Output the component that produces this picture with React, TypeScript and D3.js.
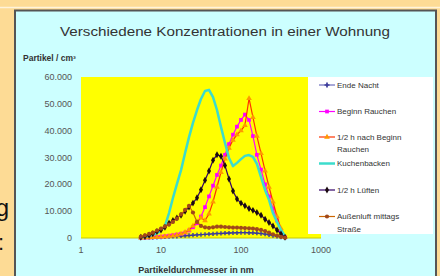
import React, { useEffect, useRef } from 'react';
import * as d3 from 'd3';

// particle diameters in nm (shared by all series)
const diameters = [5.6, 6.3, 7.1, 7.9, 8.9, 10, 11.2, 12.6, 14.1, 15.8, 17.8, 20, 22.4, 25.1, 28.2, 31.6, 35.5, 39.8, 44.7, 50.1, 56.2, 63.1, 70.8, 79.4, 89.1, 100, 112, 126, 141, 158, 178, 200, 224, 251, 282, 316, 355];

const endeNacht = [60, 90, 120, 170, 230, 300, 380, 470, 560, 650, 760, 860, 950, 1050, 1150, 1250, 1350, 1450, 1550, 1650, 1700, 1800, 1850, 1900, 1950, 2000, 2000, 1950, 1900, 1800, 1650, 1450, 1200, 900, 600, 300, 100];
const beginnRauchen = [100, 150, 200, 280, 380, 500, 650, 850, 1050, 1300, 1600, 2000, 2800, 4000, 5500, 8000, 11500, 15500, 19500, 23500, 27000, 31000, 35000, 38500, 41500, 44000, 46000, 44000, 38000, 31000, 25500, 20000, 15500, 11000, 6500, 2800, 300];
const nachBeginn = [80, 120, 170, 230, 300, 400, 520, 680, 850, 1100, 1500, 2100, 3000, 4500, 6000, 7500, 6500, 9000, 13500, 19000, 24500, 29500, 33500, 36500, 38500, 40000, 42000, 52000, 45000, 38000, 31500, 25000, 19000, 13500, 8000, 3500, 300];
const kuchenbacken = [300, 500, 800, 1200, 1800, 2800, 4500, 9300, 14900, 20100, 25300, 31700, 37600, 42900, 47700, 51800, 54800, 55200, 52500, 47700, 41400, 35400, 29800, 26800, 28000, 29400, 30600, 30900, 30200, 27600, 22700, 17900, 14200, 9300, 6000, 3000, 700];
const lueften = [300, 600, 1000, 1600, 2400, 3000, 4000, 5500, 6500, 7500, 8500, 10000, 11500, 13000, 15000, 18000, 21500, 25000, 29000, 31000, 30500, 27000, 22000, 17500, 14500, 13000, 12000, 11000, 10300, 9500, 8500, 7000, 5800, 4500, 3000, 1500, 300];
const aussenluft = [500, 1000, 1500, 2000, 2800, 3500, 4300, 5000, 6000, 7200, 8800, 10500, 12000, 9500, 6000, 4500, 4000, 3800, 4000, 4200, 4200, 4100, 4000, 3900, 3900, 3800, 3700, 3600, 3500, 3300, 3000, 2600, 2000, 1400, 900, 400, 100];

const yTicks = [0, 10000, 20000, 30000, 40000, 50000, 60000];
const xTicks = [1, 10, 100, 1000];

type Series = {
  name: string[];
  values: number[];
  line: string;
  marker: string;
  symbol: d3.SymbolType | null;
  width: number;
};

const seriesList: Series[] = [
  { name: ['Ende Nacht'], values: endeNacht, line: '#5050b0', marker: '#3a3a99', symbol: d3.symbolCross, width: 1 },
  { name: ['Beginn Rauchen'], values: beginnRauchen, line: '#ff00ff', marker: '#ff00ff', symbol: d3.symbolSquare, width: 1.2 },
  { name: ['1/2 h nach Beginn', 'Rauchen'], values: nachBeginn, line: '#ff3300', marker: '#ff9900', symbol: d3.symbolTriangle, width: 1.2 },
  { name: ['Kuchenbacken'], values: kuchenbacken, line: '#3cdccc', marker: '#3cdccc', symbol: null, width: 2.5 },
  { name: ['1/2 h Lüften'], values: lueften, line: '#330066', marker: '#1a0a10', symbol: d3.symbolDiamond, width: 1.2 },
  { name: ['Außenluft mittags', 'Straße'], values: aussenluft, line: '#cc6600', marker: '#a0481a', symbol: d3.symbolCircle, width: 1.2 },
];

const legendY = [85, 111.5, 137, 163.5, 190, 216.5];

const de = d3.formatLocale({ decimal: ',', thousands: '.', grouping: [3], currency: ['', '€'] });
const fmt = de.format(',d');

const App = () => {
  const svgRef = useRef<SVGSVGElement>(null);

  useEffect(() => {
    const svg = d3.select(svgRef.current);
    svg.selectAll('*').remove();

    const font = 'Arial, "Liberation Sans", sans-serif';

    // page background and chart box
    svg.append('rect').attr('width', 440).attr('height', 276).attr('fill', '#fddb95');
    svg.append('line').attr('x1', 0).attr('x2', 440).attr('y1', 7.5).attr('y2', 7.5)
      .attr('stroke', '#fff3da').attr('stroke-width', 1.5);
    svg.append('rect')
      .attr('x', 15).attr('y', 10.5).attr('width', 421).attr('height', 280)
      .attr('fill', '#ccffff').attr('stroke', '#555').attr('stroke-width', 2);

    // slide text fragments at the left edge
    svg.append('text').attr('x', 9).attr('y', 216).attr('text-anchor', 'end')
      .style('font-family', font).style('font-size', '24px').attr('fill', '#111').text('g');
    svg.append('text').attr('x', 4).attr('y', 250).attr('text-anchor', 'end')
      .style('font-family', font).style('font-size', '22px').attr('fill', '#111').text(':');

    const x = d3.scaleLog().domain([1, 1000]).range([81, 321]);
    const y = d3.scaleLinear().domain([0, 60000]).range([238, 77]);

    // plot area
    svg.append('rect')
      .attr('x', x(1)).attr('y', y(60000))
      .attr('width', x(1000) - x(1)).attr('height', y(0) - y(60000))
      .attr('fill', '#ffff00');
    svg.append('line')
      .attr('x1', x(1)).attr('x2', x(1000)).attr('y1', y(0)).attr('y2', y(0))
      .attr('stroke', '#c8c800').attr('stroke-width', 1);

    // title
    svg.append('text')
      .attr('x', 225).attr('y', 35.5).attr('text-anchor', 'middle')
      .attr('textLength', 330).attr('lengthAdjust', 'spacingAndGlyphs')
      .style('font-family', font).style('font-size', '12.5px').attr('fill', '#333')
      .text('Verschiedene Konzentrationen in einer Wohnung');

    svg.append('text')
      .attr('x', 23).attr('y', 61)
      .style('font-family', font).style('font-size', '8.5px').style('font-weight', 'bold').attr('fill', '#333')
      .text('Partikel / cm³');

    // y ticks
    svg.append('g').selectAll('text').data(yTicks).enter().append('text')
      .attr('x', 72).attr('y', d => y(d)).attr('dy', '0.35em').attr('text-anchor', 'end')
      .style('font-family', font).style('font-size', '9px').attr('fill', '#555')
      .text(d => fmt(d));

    // x ticks
    svg.append('g').selectAll('text').data(xTicks).enter().append('text')
      .attr('x', d => x(d)).attr('y', 253).attr('text-anchor', 'middle')
      .style('font-family', font).style('font-size', '9px').attr('fill', '#555')
      .text(d => String(d));

    svg.append('text')
      .attr('x', 196).attr('y', 272.5).attr('text-anchor', 'middle')
      .style('font-family', font).style('font-size', '9px').style('font-weight', 'bold').attr('fill', '#333')
      .text('Partikeldurchmesser in nm');

    // series
    const line = d3.line<number>()
      .x((_, i) => x(diameters[i]))
      .y(d => y(d));

    seriesList.forEach(s => {
      const g = svg.append('g');
      g.append('path')
        .attr('d', line(s.values))
        .attr('fill', 'none')
        .attr('stroke', s.line)
        .attr('stroke-width', s.width)
        .attr('stroke-linejoin', 'round');
      if (s.symbol) {
        const sym = d3.symbol().type(s.symbol).size(s.symbol === d3.symbolCross ? 10 : 14);
        g.selectAll('path.m').data(s.values).enter().append('path')
          .attr('class', 'm')
          .attr('transform', (d, i) => `translate(${x(diameters[i])},${y(d)})`)
          .attr('d', sym())
          .attr('fill', s.marker);
      }
    });

    // legend
    const legend = svg.append('g');
    legend.append('rect')
      .attr('x', 308).attr('y', 77).attr('width', 125).attr('height', 157)
      .attr('fill', '#ffffff');

    seriesList.forEach((s, i) => {
      const ly = legendY[i];
      legend.append('line')
        .attr('x1', 319).attr('x2', 335).attr('y1', ly).attr('y2', ly)
        .attr('stroke', s.line).attr('stroke-width', s.width);
      if (s.symbol) {
        legend.append('path')
          .attr('transform', `translate(327,${ly})`)
          .attr('d', d3.symbol().type(s.symbol).size(14)())
          .attr('fill', s.marker);
      }
      s.name.forEach((t, j) => {
        legend.append('text')
          .attr('x', 337).attr('y', ly + j * 12.5).attr('dy', '0.35em')
          .style('font-family', font).style('font-size', '8px').attr('fill', '#333')
          .text(t);
      });
    });
  }, []);

  return (
    <svg ref={svgRef} width={440} height={276}
      style={{ position: 'absolute', left: 0, top: 0, display: 'block' }} />
  );
};

export default App;
